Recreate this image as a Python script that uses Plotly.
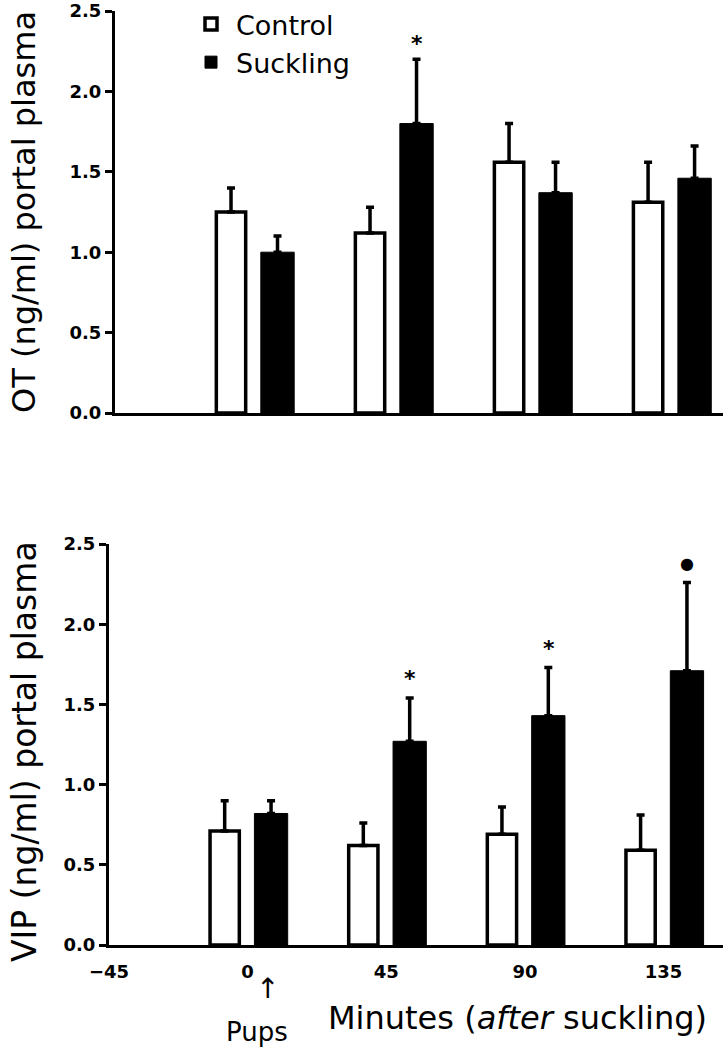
import plotly.graph_objects as go

# ---- data ----
times = [0, 45, 90, 135]
tick_vals = [-45, 0, 45, 90, 135]
tick_text = ["\u221245", "0", "45", "90", "135"]

ot_control = [1.25, 1.12, 1.56, 1.31]
ot_control_sem = [0.15, 0.16, 0.24, 0.25]
ot_suckling = [1.00, 1.80, 1.37, 1.46]
ot_suckling_sem = [0.10, 0.40, 0.19, 0.20]

vip_control = [0.71, 0.62, 0.69, 0.59]
vip_control_sem = [0.19, 0.14, 0.17, 0.22]
vip_suckling = [0.82, 1.27, 1.43, 1.71]
vip_suckling_sem = [0.08, 0.27, 0.30, 0.55]

ot_marks = ["", "*", "", ""]
vip_marks = ["", "*", "*", "\u25cf"]

y_ticks = [0.0, 0.5, 1.0, 1.5, 2.0, 2.5]

W, H = 723, 1050
FONT = "DejaVu Sans"

fig = go.Figure()

def add_panel(ctrl, ctrl_sem, suck, suck_sem, xa, ya, show_legend):
    fig.add_trace(go.Bar(
        x=times, y=ctrl, name="Control", width=9.5, offset=-12.2,
        marker=dict(color="white", line=dict(color="black", width=3.5)),
        error_y=dict(type="data", array=ctrl_sem, symmetric=False,
                     arrayminus=[0] * len(ctrl), color="black", thickness=3.5, width=4),
        xaxis=xa, yaxis=ya, showlegend=show_legend, legendgroup="c"))
    fig.add_trace(go.Bar(
        x=times, y=suck, name="Suckling", width=10.8, offset=2.2,
        marker=dict(color="black", line=dict(color="black", width=1)),
        error_y=dict(type="data", array=suck_sem, symmetric=False,
                     arrayminus=[0] * len(suck), color="black", thickness=3.5, width=4),
        xaxis=xa, yaxis=ya, showlegend=show_legend, legendgroup="s"))

add_panel(ot_control, ot_control_sem, ot_suckling, ot_suckling_sem, "x", "y", True)
add_panel(vip_control, vip_control_sem, vip_suckling, vip_suckling_sem, "x2", "y2", False)

# significance marks
for i, t in enumerate(times):
    if ot_marks[i]:
        fig.add_annotation(x=t + 7.7, y=ot_suckling[i] + ot_suckling_sem[i] + 0.1,
                           xref="x", yref="y", text=ot_marks[i], showarrow=False,
                           xanchor="center", yanchor="middle",
                           font=dict(family=FONT, size=22, color="black", weight="bold"))
    if vip_marks[i]:
        sz = 22 if vip_marks[i] == "*" else 16
        fig.add_annotation(x=t + 7.7, y=vip_suckling[i] + vip_suckling_sem[i] + 0.12,
                           xref="x2", yref="y2", text=vip_marks[i], showarrow=False,
                           xanchor="center", yanchor="middle",
                           font=dict(family=FONT, size=sz, color="black", weight="bold"))

axis_common = dict(showline=True, linecolor="black", linewidth=3, showgrid=False,
                   zeroline=False, mirror=False, automargin=False)
tickfont = dict(family=FONT, size=18, color="black", weight="bold")

fig.update_layout(
    width=W, height=H,
    margin=dict(l=0, r=0, t=0, b=0, autoexpand=False),
    paper_bgcolor="white", plot_bgcolor="white",
    barmode="overlay",
    xaxis=dict(domain=[115 / W, 1], range=[-45, 151.8], anchor="y",
               showticklabels=False, ticks="", **axis_common),
    yaxis=dict(domain=[1 - 413 / H, 1 - 11 / H], range=[0, 2.50001], anchor="x",
               tickvals=y_ticks, ticktext=[f"{v:.1f}" for v in y_ticks],
               ticks="outside", ticklen=7, tickwidth=3, tickcolor="black",
               tickfont=tickfont, **axis_common),
    xaxis2=dict(domain=[109 / W, 1], range=[-45, 154.3], anchor="y2",
                tickvals=tick_vals, ticktext=tick_text, ticks="",
                ticklabelstandoff=8,
                tickfont=tickfont, **axis_common),
    yaxis2=dict(domain=[1 - 945 / H, 1 - 544 / H], range=[0, 2.50001], anchor="x2",
                tickvals=y_ticks, ticktext=[f"{v:.1f}" for v in y_ticks],
                ticks="outside", ticklen=7, tickwidth=3, tickcolor="black",
                tickfont=tickfont, **axis_common),
    legend=dict(x=186 / W, y=1.0, xanchor="left", yanchor="top",
                font=dict(family=FONT, size=27, color="black"),
                bgcolor="rgba(0,0,0,0)", tracegroupgap=0, itemwidth=40),
    showlegend=True,
)

# axis titles and labels
fig.add_annotation(x=24 / W, y=1 - 212 / H, xref="paper", yref="paper",
                   xanchor="center", yanchor="middle",
                   text="OT (ng/ml) portal plasma", textangle=-90, showarrow=False,
                   font=dict(family=FONT, size=32, color="black"))
fig.add_annotation(x=24 / W, y=1 - 752 / H, xref="paper", yref="paper",
                   xanchor="center", yanchor="middle",
                   text="VIP (ng/ml) portal plasma", textangle=-90, showarrow=False,
                   font=dict(family=FONT, size=33, color="black"))
fig.add_annotation(x=517 / W, y=1 - 1018 / H, xref="paper", yref="paper",
                   xanchor="center", yanchor="middle",
                   text="Minutes (<i>after</i> suckling)", showarrow=False,
                   font=dict(family=FONT, size=32, color="black"))
fig.add_annotation(x=6.5, y=1 - 988 / H, xref="x2", yref="paper",
                   xanchor="center", yanchor="middle",
                   text="\u2191", showarrow=False,
                   font=dict(family=FONT, size=28, color="black"))
fig.add_annotation(x=3.2, y=1 - 1032 / H, xref="x2", yref="paper",
                   xanchor="center", yanchor="middle",
                   text="Pups", showarrow=False,
                   font=dict(family=FONT, size=26, color="black"))

fig.write_html("out.html", config={"displayModeBar": False},
               post_script="document.body.style.margin='0px';")
